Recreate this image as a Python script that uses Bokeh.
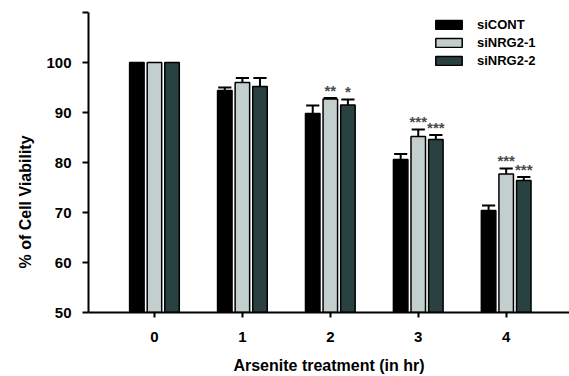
from bokeh.plotting import figure
from bokeh.models import Range1d, FixedTicker, Title, Legend, LegendItem, ColumnDataSource
from bokeh.core.properties import value
from bokeh.embed import file_html
from bokeh.resources import INLINE

# ---- data ----
hours = [0, 1, 2, 3, 4]
series_names = ["siCONT", "siNRG2-1", "siNRG2-2"]
sicont = [100.0, 94.4, 89.8, 80.6, 70.4]
sicont_err = [0.0, 0.6, 1.6, 1.1, 1.0]
sinrg2_1 = [100.0, 96.0, 92.7, 85.2, 77.7]
sinrg2_1_err = [0.0, 0.9, 0.2, 1.4, 1.1]
sinrg2_2 = [100.0, 95.2, 91.5, 84.6, 76.4]
sinrg2_2_err = [0.0, 1.7, 1.1, 0.9, 0.7]
star_hour = [2, 2, 3, 3, 4, 4]
star_series = [1, 2, 1, 2, 1, 2]
star_text = ["**", "*", "***", "***", "***", "***"]
y_ticks = [50, 60, 70, 80, 90, 100, 110]

colors = ["#000000", "#c3cfcd", "#2a4141"]
means = [sicont, sinrg2_1, sinrg2_2]
errs = [sicont_err, sinrg2_1_err, sinrg2_2_err]
offsets = [-0.2, 0.0, 0.2]
bar_w = 0.165
cap_half = 0.075

FONT = "Liberation Sans"

p = figure(width=569, height=376, output_backend="svg", toolbar_location=None,
           x_range=Range1d(-0.75, 4.72), y_range=Range1d(50, 110),
           min_border_left=88, min_border_right=0, min_border_top=12, min_border_bottom=62)
p.outline_line_color = None
p.xgrid.grid_line_color = None
p.ygrid.grid_line_color = None
p.background_fill_color = "white"

legend_items = []
for i in range(3):
    xs = [h + offsets[i] for h in hours]
    src = ColumnDataSource(dict(x=xs, top=means[i]))
    r = p.vbar(x="x", top="top", bottom=50, width=bar_w, source=src,
               fill_color=colors[i], line_color="black", line_width=1.5)
    legend_items.append(LegendItem(label=series_names[i], renderers=[r]))
    # error bars (upper only)
    ups = [m + e for m, e in zip(means[i], errs[i])]
    sel = [k for k in range(len(hours)) if errs[i][k] > 0]
    p.segment(x0=[xs[k] for k in sel], y0=[means[i][k] for k in sel],
              x1=[xs[k] for k in sel], y1=[ups[k] for k in sel],
              line_color="black", line_width=2)
    p.segment(x0=[xs[k] - cap_half for k in sel], y0=[ups[k] for k in sel],
              x1=[xs[k] + cap_half for k in sel], y1=[ups[k] for k in sel],
              line_color="black", line_width=2)

# significance stars
sx = [h + offsets[s] for h, s in zip(star_hour, star_series)]
sy = [means[s][hours.index(h)] + errs[s][hours.index(h)] for h, s in zip(star_hour, star_series)]
p.text(x=sx, y=sy, text=star_text, text_align="center", text_baseline="middle",
       y_offset=-8, text_font=value(FONT), text_font_size="15px", text_font_style="bold",
       text_color="#4a4a4a")

# axes
for ax in (p.xaxis[0], p.yaxis[0]):
    ax.axis_line_width = 2
    ax.axis_line_color = "black"
    ax.major_tick_line_width = 2
    ax.major_tick_line_color = "black"
    ax.minor_tick_line_color = None
    ax.major_tick_in = 0
    ax.major_label_text_font = FONT
    ax.major_label_text_font_style = "bold"
    ax.major_label_text_font_size = "15px"
    ax.major_label_text_color = "black"

p.xaxis[0].ticker = FixedTicker(ticks=hours)
p.xaxis[0].major_tick_out = 5
p.xaxis[0].major_label_standoff = 14
p.xaxis[0].axis_label = "Arsenite treatment (in hr)"
p.xaxis[0].axis_label_text_font = FONT
p.xaxis[0].axis_label_text_font_style = "bold"
p.xaxis[0].axis_label_text_font_size = "16px"
p.xaxis[0].axis_label_text_color = "black"
p.xaxis[0].axis_label_standoff = 12

p.yaxis[0].ticker = FixedTicker(ticks=y_ticks)
p.yaxis[0].major_label_overrides = {110: ""}
p.yaxis[0].major_tick_out = 6
p.yaxis[0].major_label_standoff = 11

ytitle = Title(text="% of Cell Viability", align="left", offset=44,
               text_font=FONT, text_font_style="bold", text_font_size="16px",
               text_color="black", standoff=20)
p.add_layout(ytitle, "left")

legend = Legend(items=legend_items, location=(344, 244), orientation="vertical",
                glyph_width=33, glyph_height=11, label_height=11, spacing=3,
                label_standoff=12, padding=0, margin=0, border_line_color=None,
                background_fill_alpha=0, label_text_font=FONT, label_text_font_style="bold",
                label_text_font_size="13px", label_text_color="black")
p.add_layout(legend)

open("out.html", "w").write(file_html(p, INLINE))
